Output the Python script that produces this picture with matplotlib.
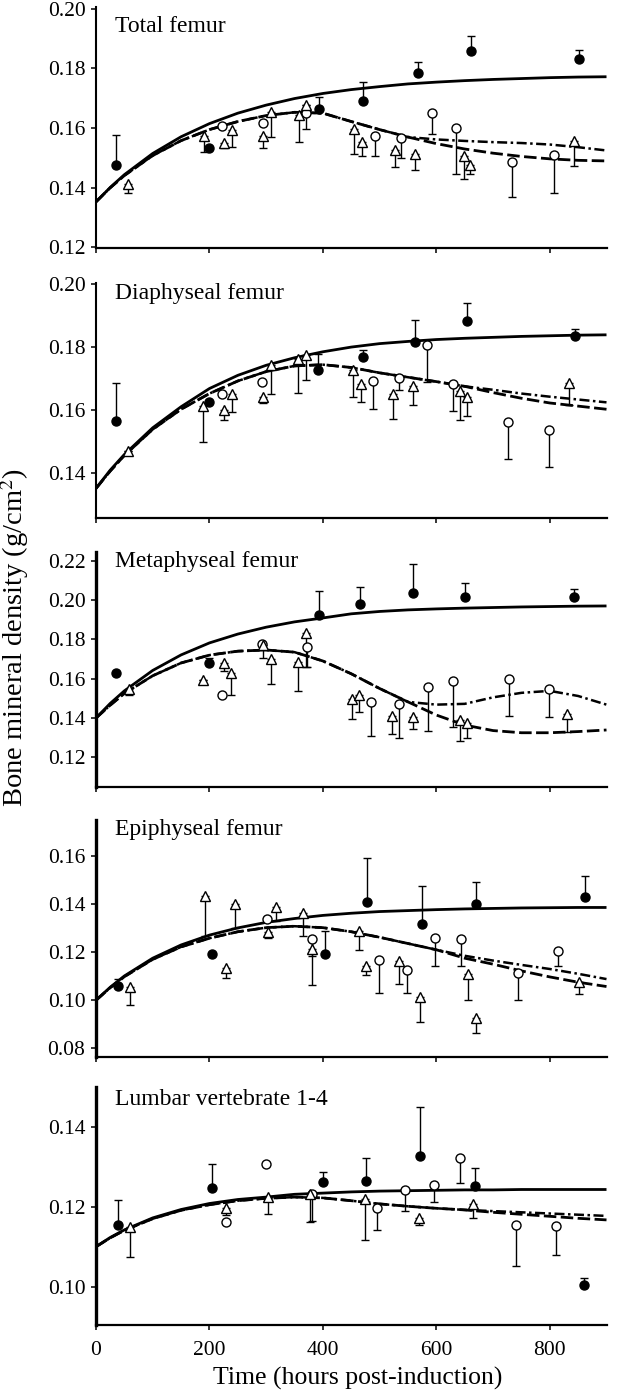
import matplotlib
matplotlib.use('Agg')
import matplotlib.pyplot as plt
from matplotlib.ticker import FormatStrFormatter

plt.rcParams['font.family'] = ['Liberation Serif', 'DejaVu Serif']
plt.rcParams['mathtext.fontset'] = 'stix'

curve_hours = [0, 25, 50, 100, 150, 200, 250, 300, 350, 400, 450, 500,
               550, 600, 650, 700, 750, 800, 850, 900]

# ---- Total femur ----
total_fill_x = [36, 200, 393, 470, 567, 661, 852]
total_fill_y = [0.1476, 0.1532, 0.1664, 0.1691, 0.1786, 0.1858, 0.1830]
total_fill_err = [0.0101, 0.0, 0.0041, 0.0063, 0.0035, 0.0052, 0.0031]
total_circ_x = [222, 294, 371, 491, 538, 592, 635, 733, 807]
total_circ_y = [0.1607, 0.1618, 0.1650, 0.1574, 0.1566, 0.1649, 0.1599, 0.1486, 0.1511]
total_circ_err = [0.0, 0.0, 0.0054, 0.0066, 0.0066, 0.0069, 0.0152, 0.0117, 0.0128]
total_tri_x = [57, 190, 225, 239, 295, 309, 358, 371, 455, 469, 528, 563, 649, 660, 842]
total_tri_y = [0.1413, 0.1574, 0.1551, 0.1594, 0.1575, 0.1653, 0.1644, 0.1677,
               0.1597, 0.1554, 0.1527, 0.1513, 0.1506, 0.1478, 0.1558]
total_tri_err = [0.0029, 0.0053, 0.0019, 0.0056, 0.0043, 0.0084, 0.0090, 0.0,
                 0.0084, 0.0046, 0.0058, 0.0052, 0.0078, 0.0031, 0.0084]
total_solid = [0.1353, 0.1401, 0.1444, 0.1515, 0.1571, 0.1615, 0.1650, 0.1677, 0.1699, 0.1716,
               0.1729, 0.1739, 0.1748, 0.1754, 0.1759, 0.1763, 0.1766, 0.1769, 0.1771, 0.1772]
total_dash = [0.1353, 0.1400, 0.1441, 0.1508, 0.1558, 0.1595, 0.1622, 0.1642, 0.1653, 0.1650,
              0.1622, 0.1595, 0.1570, 0.1548, 0.1530, 0.1516, 0.1505, 0.1497, 0.1492, 0.1490]
total_dashdot = [0.1353, 0.1400, 0.1441, 0.1508, 0.1558, 0.1595, 0.1622, 0.1642, 0.1653, 0.1650,
                 0.1622, 0.1595, 0.1570, 0.1562, 0.1557, 0.1553, 0.1550, 0.1545, 0.1536, 0.1525]

# ---- Diaphyseal femur ----
diaph_fill_x = [36, 199, 392, 470, 562, 654, 844]
diaph_fill_y = [0.1566, 0.1626, 0.1727, 0.1768, 0.1817, 0.1883, 0.1835]
diaph_fill_err = [0.0119, 0.0, 0.0050, 0.0023, 0.0069, 0.0057, 0.0023]
diaph_circ_x = [222, 292, 488, 534, 584, 630, 727, 798]
diaph_circ_y = [0.1650, 0.1688, 0.1692, 0.1703, 0.1807, 0.1682, 0.1560, 0.1536]
diaph_circ_err = [0.0, 0.0, 0.0088, 0.0040, 0.0119, 0.0086, 0.0117, 0.0119]
diaph_tri_x = [57, 189, 225, 239, 295, 309, 357, 370, 453, 467, 523, 558, 642, 654, 834]
diaph_tri_y = [0.1470, 0.1613, 0.1600, 0.1651, 0.1640, 0.1743, 0.1761, 0.1775,
               0.1727, 0.1682, 0.1650, 0.1676, 0.1660, 0.1642, 0.1685]
diaph_tri_err = [0.0, 0.0114, 0.0033, 0.0059, 0.0017, 0.0093, 0.0108, 0.0080,
                 0.0087, 0.0058, 0.0079, 0.0060, 0.0092, 0.0062, 0.0069]
diaph_solid = [0.1350, 0.1408, 0.1458, 0.1543, 0.1610, 0.1668, 0.1710, 0.1742, 0.1766, 0.1785,
               0.1800, 0.1811, 0.1818, 0.1824, 0.1828, 0.1831, 0.1834, 0.1836, 0.1838, 0.1839]
diaph_dash = [0.1350, 0.1405, 0.1455, 0.1538, 0.1602, 0.1652, 0.1692, 0.1722, 0.1740, 0.1744,
              0.1735, 0.1718, 0.1704, 0.1690, 0.1675, 0.1655, 0.1637, 0.1622, 0.1612, 0.1602]
diaph_dashdot = [0.1350, 0.1405, 0.1455, 0.1538, 0.1602, 0.1652, 0.1692, 0.1722, 0.1740, 0.1744,
                 0.1735, 0.1718, 0.1704, 0.1690, 0.1675, 0.1664, 0.1652, 0.1642, 0.1633, 0.1624]

# ---- Metaphyseal femur ----
meta_fill_x = [36, 199, 394, 465, 558, 650, 843]
meta_fill_y = [0.1627, 0.1681, 0.1924, 0.1978, 0.2038, 0.2017, 0.2014]
meta_fill_err = [0.0, 0.0022, 0.0123, 0.0090, 0.0143, 0.0068, 0.0042]
meta_circ_x = [222, 292, 372, 485, 535, 585, 630, 728, 799]
meta_circ_y = [0.1517, 0.1776, 0.1763, 0.1480, 0.1470, 0.1556, 0.1588, 0.1598, 0.1546]
meta_circ_err = [0.0, 0.0, 0.0102, 0.0170, 0.0173, 0.0222, 0.0232, 0.0188, 0.0143]
meta_tri_x = [58, 189, 226, 238, 294, 308, 356, 370, 451, 464, 522, 558, 642, 654, 831]
meta_tri_y = [0.1546, 0.1593, 0.1681, 0.1627, 0.1771, 0.1698, 0.1686, 0.1834,
              0.1495, 0.1517, 0.1412, 0.1407, 0.1390, 0.1373, 0.1420]
meta_tri_err = [0.0029, 0.0, 0.0042, 0.0110, 0.0068, 0.0127, 0.0149, 0.0173,
                0.0102, 0.0088, 0.0093, 0.0065, 0.0107, 0.0076, 0.0089]
meta_solid = [0.1400, 0.1474, 0.1538, 0.1642, 0.1721, 0.1782, 0.1827, 0.1862, 0.1889, 0.1909,
              0.1930, 0.1942, 0.1950, 0.1955, 0.1959, 0.1962, 0.1965, 0.1967, 0.1969, 0.1970]
meta_dash = [0.1400, 0.1465, 0.1525, 0.1615, 0.1680, 0.1720, 0.1740, 0.1746, 0.1735, 0.1690,
             0.1625, 0.1550, 0.1482, 0.1415, 0.1364, 0.1336, 0.1325, 0.1325, 0.1331, 0.1339]
meta_dashdot = [0.1400, 0.1465, 0.1525, 0.1615, 0.1680, 0.1720, 0.1740, 0.1746, 0.1735, 0.1690,
                0.1625, 0.1550, 0.1482, 0.1468, 0.1472, 0.1505, 0.1528, 0.1538, 0.1512, 0.1468]

# ---- Epiphyseal femur ----
epi_fill_x = [38, 205, 403, 477, 574, 670, 862]
epi_fill_y = [0.1060, 0.1194, 0.1192, 0.1407, 0.1317, 0.1400, 0.1431]
epi_fill_err = [0.0027, 0.0, 0.0097, 0.0185, 0.0159, 0.0094, 0.0084]
epi_circ_x = [302, 381, 499, 549, 597, 644, 744, 815]
epi_circ_y = [0.1338, 0.1254, 0.1168, 0.1124, 0.1257, 0.1254, 0.1115, 0.1206]
epi_circ_err = [0.0, 0.0190, 0.0136, 0.0092, 0.0114, 0.0111, 0.0114, 0.0063]
epi_tri_x = [60, 193, 229, 245, 303, 317, 365, 380, 463, 476, 535, 572, 656, 670, 851]
epi_tri_y = [0.1056, 0.1435, 0.1136, 0.1400, 0.1282, 0.1389, 0.1361, 0.1213,
             0.1289, 0.1143, 0.1164, 0.1014, 0.1108, 0.0924, 0.1074]
epi_tri_err = [0.0076, 0.0167, 0.0042, 0.0100, 0.0021, 0.0058, 0.0093, 0.0028,
               0.0081, 0.0039, 0.0097, 0.0103, 0.0108, 0.0059, 0.0049]
epi_solid = [0.1000, 0.1054, 0.1101, 0.1175, 0.1230, 0.1271, 0.1301, 0.1324, 0.1340, 0.1353,
             0.1362, 0.1369, 0.1373, 0.1377, 0.1380, 0.1382, 0.1384, 0.1385, 0.1386, 0.1386]
epi_dash = [0.1000, 0.1052, 0.1098, 0.1170, 0.1222, 0.1258, 0.1285, 0.1302, 0.1308, 0.1302,
            0.1285, 0.1262, 0.1236, 0.1210, 0.1175, 0.1150, 0.1122, 0.1097, 0.1075, 0.1057]
epi_dashdot = [0.1000, 0.1052, 0.1098, 0.1170, 0.1222, 0.1258, 0.1285, 0.1302, 0.1308, 0.1302,
               0.1285, 0.1262, 0.1236, 0.1210, 0.1185, 0.1165, 0.1147, 0.1130, 0.1110, 0.1088]

# ---- Lumbar vertebrate 1-4 ----
lumb_fill_x = [38, 205, 401, 476, 571, 668, 860]
lumb_fill_y = [0.1154, 0.1246, 0.1261, 0.1264, 0.1328, 0.1252, 0.1004]
lumb_fill_err = [0.0063, 0.0062, 0.0025, 0.0059, 0.0122, 0.0044, 0.0019]
lumb_circ_x = [229, 300, 380, 495, 545, 596, 641, 740, 811]
lumb_circ_y = [0.1163, 0.1306, 0.1233, 0.1196, 0.1243, 0.1254, 0.1321, 0.1154, 0.1152]
lumb_circ_err = [0.0, 0.0, 0.0068, 0.0053, 0.0053, 0.0043, 0.0061, 0.0102, 0.0073]
lumb_tri_x = [60, 230, 303, 378, 474, 569, 665]
lumb_tri_y = [0.1150, 0.1196, 0.1225, 0.1233, 0.1219, 0.1171, 0.1208]
lumb_tri_err = [0.0075, 0.0017, 0.0042, 0.0070, 0.0101, 0.0017, 0.0037]
lumb_solid = [0.1100, 0.1123, 0.1142, 0.1172, 0.1193, 0.1208, 0.1218, 0.1224, 0.1231, 0.1234,
              0.1237, 0.1239, 0.1240, 0.1241, 0.1242, 0.1242, 0.1243, 0.1243, 0.1243, 0.1243]
lumb_dash = [0.1100, 0.1122, 0.1141, 0.1170, 0.1191, 0.1205, 0.1215, 0.1221, 0.1224, 0.1222,
             0.1215, 0.1207, 0.1201, 0.1196, 0.1192, 0.1186, 0.1181, 0.1176, 0.1171, 0.1167]
lumb_dashdot = [0.1100, 0.1122, 0.1141, 0.1170, 0.1191, 0.1205, 0.1215, 0.1221, 0.1224, 0.1222,
                0.1215, 0.1207, 0.1201, 0.1196, 0.1192, 0.1189, 0.1186, 0.1183, 0.1180, 0.1177]

panel_titles = ['Total femur', 'Diaphyseal femur', 'Metaphyseal femur',
                'Epiphyseal femur', 'Lumbar vertebrate 1-4']
x_ticks = [0, 200, 400, 600, 800]

W, H = 617, 1392
fig = plt.figure(figsize=(W / 100, H / 100), dpi=100)

# pixel layout of each panel: top/bottom edge, y range, ticks, left spine width, title baseline
panels = [
    dict(top=7.2, bottom=247.5, ylim=(0.12, 0.2005), yticks=[0.12, 0.14, 0.16, 0.18, 0.20], lw=1.5, base=32,
         fill=(total_fill_x, total_fill_y, total_fill_err), circ=(total_circ_x, total_circ_y, total_circ_err),
         tri=(total_tri_x, total_tri_y, total_tri_err), curves=(total_solid, total_dash, total_dashdot)),
    dict(top=282.7, bottom=517.6, ylim=(0.1257, 0.2005), yticks=[0.14, 0.16, 0.18, 0.20], lw=1.5, base=299,
         fill=(diaph_fill_x, diaph_fill_y, diaph_fill_err), circ=(diaph_circ_x, diaph_circ_y, diaph_circ_err),
         tri=(diaph_tri_x, diaph_tri_y, diaph_tri_err), curves=(diaph_solid, diaph_dash, diaph_dashdot)),
    dict(top=551.9, bottom=786.8, ylim=(0.105, 0.2245), yticks=[0.12, 0.14, 0.16, 0.18, 0.20, 0.22], lw=2.4, base=567,
         fill=(meta_fill_x, meta_fill_y, meta_fill_err), circ=(meta_circ_x, meta_circ_y, meta_circ_err),
         tri=(meta_tri_x, meta_tri_y, meta_tri_err), curves=(meta_solid, meta_dash, meta_dashdot)),
    dict(top=820, bottom=1056.7, ylim=(0.0765, 0.175), yticks=[0.08, 0.10, 0.12, 0.14, 0.16], lw=2.4, base=835,
         fill=(epi_fill_x, epi_fill_y, epi_fill_err), circ=(epi_circ_x, epi_circ_y, epi_circ_err),
         tri=(epi_tri_x, epi_tri_y, epi_tri_err), curves=(epi_solid, epi_dash, epi_dashdot)),
    dict(top=1086.7, bottom=1324.7, ylim=(0.0905, 0.150), yticks=[0.10, 0.12, 0.14], lw=2.4, base=1105,
         fill=(lumb_fill_x, lumb_fill_y, lumb_fill_err), circ=(lumb_circ_x, lumb_circ_y, lumb_circ_err),
         tri=(lumb_tri_x, lumb_tri_y, lumb_tri_err), curves=(lumb_solid, lumb_dash, lumb_dashdot)),
]

left_px, right_px = 96, 606.5
tick_size = 15.5

for i, p in enumerate(panels):
    ax = fig.add_axes([left_px / W, 1 - p['bottom'] / H, (right_px - left_px) / W, (p['bottom'] - p['top']) / H])
    solid, dash, dashdot = p['curves']
    ax.plot(curve_hours, solid, color='black', lw=2.0, solid_capstyle='butt', zorder=2)
    ax.plot(curve_hours, dash, color='black', lw=2.0, dashes=(4.5, 1.6), zorder=2)
    ax.plot(curve_hours, dashdot, color='black', lw=1.8, dashes=(4.0, 1.4, 1.0, 1.4), zorder=2)

    fx, fy, fe = p['fill']
    ax.errorbar(fx, fy, yerr=[[0] * len(fe), fe], fmt='o', color='black', ms=6.5,
                elinewidth=1.0, capsize=3.2, capthick=1.0, zorder=4)
    cx, cy, ce = p['circ']
    ax.errorbar(cx, cy, yerr=[ce, [0] * len(ce)], fmt='o', mfc='white', mec='black', mew=1.0,
                color='black', ms=6.5, elinewidth=1.0, capsize=3.2, capthick=1.0, zorder=4)
    tx, ty, te = p['tri']
    ax.errorbar(tx, ty, yerr=[te, [0] * len(te)], fmt='^', mfc='white', mec='black', mew=1.0,
                color='black', ms=6.8, elinewidth=1.0, capsize=3.2, capthick=1.0, zorder=4)

    ax.set_xlim(0, 900)
    ax.set_ylim(*p['ylim'])
    ax.set_yticks(p['yticks'])
    ax.yaxis.set_major_formatter(FormatStrFormatter('%.2f'))
    ax.set_xticks(x_ticks)
    for side in ('top', 'right'):
        ax.spines[side].set_visible(False)
    ax.spines['left'].set_linewidth(p['lw'])
    ax.spines['bottom'].set_linewidth(1.6)
    ax.tick_params(axis='y', direction='out', length=3.6, width=1.1, pad=4, labelsize=tick_size)
    ax.tick_params(axis='x', direction='out', length=3.6, width=1.1, pad=8, labelsize=tick_size)
    if i < len(panels) - 1:
        ax.set_xticklabels([])
    fig.text(115 / W, 1 - p['base'] / H, panel_titles[i], fontsize=17, va='baseline', ha='left')

fig.text(15 / W, 1 - 637 / H, 'Bone mineral density (g/cm$^2$)', rotation=90,
         fontsize=20.5, ha='center', va='center')
fig.text(358 / W, 1 - 1385 / H, 'Time (hours post-induction)', fontsize=18.5,
         ha='center', va='baseline')

fig.savefig('out.png', dpi=100)
